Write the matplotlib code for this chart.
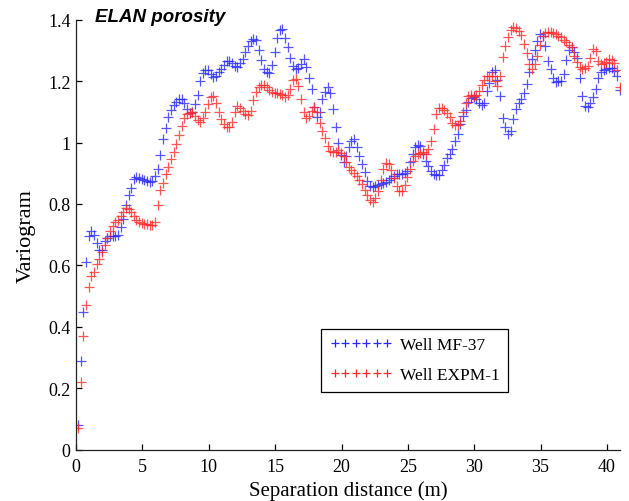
import numpy as np
import matplotlib
matplotlib.use("Agg")
import matplotlib.pyplot as plt

# lag distances (m), one every 0.2 m
lag = np.round(np.arange(0.15, 41.0, 0.2), 2)

# Well MF-37 (blue)
mf37 = [
    0.08, 0.29, 0.45, 0.61, 0.695, 0.713, 0.70, 0.672, 0.65, 0.65,
    0.68, 0.69, 0.695, 0.695, 0.695, 0.70, 0.725, 0.752, 0.795, 0.83,
    0.853, 0.88, 0.887, 0.885, 0.88, 0.879, 0.876, 0.872, 0.875, 0.89,
    0.915, 0.96, 1.01, 1.048, 1.082, 1.105, 1.122, 1.132, 1.14, 1.14,
    1.128, 1.108, 1.095, 1.10, 1.125, 1.155, 1.20, 1.225, 1.235, 1.235,
    1.222, 1.213, 1.218, 1.228, 1.24, 1.253, 1.265, 1.265, 1.258, 1.25,
    1.245, 1.258, 1.272, 1.295, 1.315, 1.33, 1.337, 1.332, 1.30, 1.27,
    1.24, 1.228, 1.226, 1.253, 1.295, 1.34, 1.365, 1.37, 1.34, 1.31,
    1.275, 1.25, 1.24, 1.242, 1.255, 1.272, 1.245, 1.21, 1.175, 1.115,
    1.082, 1.10, 1.14, 1.165, 1.18, 1.16, 1.108, 1.05, 0.998, 0.958,
    0.935, 0.955, 0.985, 1.005, 1.01, 0.985, 0.957, 0.93, 0.905, 0.875,
    0.858, 0.855, 0.859, 0.862, 0.865, 0.867, 0.87, 0.877, 0.885, 0.892,
    0.898, 0.898, 0.899, 0.901, 0.908, 0.936, 0.963, 0.984, 0.992, 0.987,
    0.963, 0.94, 0.922, 0.908, 0.899, 0.894, 0.895, 0.912, 0.927, 0.948,
    0.963, 0.978, 1.005, 1.028, 1.06, 1.085, 1.106, 1.133, 1.146, 1.147,
    1.143, 1.13, 1.122, 1.128, 1.167, 1.195, 1.228, 1.235, 1.205, 1.15,
    1.08, 1.05, 1.028, 1.036, 1.075, 1.11, 1.127, 1.14, 1.16, 1.19,
    1.23, 1.273, 1.30, 1.33, 1.354, 1.345, 1.315, 1.265, 1.238, 1.21,
    1.198, 1.2, 1.2, 1.222, 1.267, 1.302, 1.31, 1.295, 1.275, 1.21,
    1.15, 1.12, 1.115, 1.127, 1.148, 1.175, 1.21, 1.228, 1.237, 1.24,
    1.242, 1.241, 1.232, 1.215, 1.17,
]

# Well EXPM-1 (red)
expm1 = [
    0.07, 0.22, 0.37, 0.47, 0.53, 0.565, 0.58, 0.605, 0.622, 0.645,
    0.667, 0.69, 0.712, 0.727, 0.74, 0.748, 0.76, 0.773, 0.787, 0.785,
    0.773, 0.76, 0.747, 0.74, 0.738, 0.736, 0.735, 0.733, 0.732, 0.74,
    0.795, 0.845, 0.868, 0.897, 0.92, 0.945, 0.97, 0.996, 1.023, 1.053,
    1.08, 1.093, 1.097, 1.098, 1.085, 1.074, 1.066, 1.08, 1.10, 1.125,
    1.148, 1.152, 1.127, 1.10, 1.078, 1.06, 1.052, 1.052, 1.068, 1.098,
    1.118, 1.113, 1.104, 1.093, 1.09, 1.104, 1.137, 1.165, 1.182, 1.188,
    1.187, 1.18, 1.172, 1.165, 1.16, 1.16, 1.159, 1.156, 1.148, 1.155,
    1.175, 1.205, 1.208, 1.185, 1.14, 1.10, 1.08, 1.085, 1.104, 1.117,
    1.10, 1.065, 1.037, 1.015, 0.987, 0.972, 0.969, 0.97, 0.974, 0.967,
    0.957, 0.935, 0.92, 0.91, 0.90, 0.89, 0.878, 0.864, 0.846, 0.828,
    0.814, 0.806, 0.82, 0.842, 0.877, 0.915, 0.933, 0.93, 0.91, 0.885,
    0.86, 0.842, 0.842, 0.862, 0.888, 0.914, 0.94, 0.957, 0.962, 0.966,
    0.969, 0.964, 0.98, 1.005, 1.045, 1.093, 1.113, 1.112, 1.105, 1.097,
    1.083, 1.065, 1.057, 1.058, 1.07, 1.10, 1.13, 1.15, 1.153, 1.15,
    1.155, 1.168, 1.186, 1.203, 1.215, 1.218, 1.216, 1.20, 1.184, 1.215,
    1.277, 1.313, 1.343, 1.365, 1.375, 1.372, 1.362, 1.349, 1.32, 1.29,
    1.255, 1.24, 1.255, 1.28, 1.316, 1.345, 1.357, 1.36, 1.36, 1.356,
    1.354, 1.348, 1.343, 1.335, 1.328, 1.318, 1.31, 1.283, 1.262, 1.245,
    1.24, 1.242, 1.25, 1.275, 1.303, 1.298, 1.265, 1.256, 1.258, 1.263,
    1.272, 1.27, 1.258, 1.235, 1.18,
]

xticks = [0, 5, 10, 15, 20, 25, 30, 35, 40]
yticks = [0, 0.2, 0.4, 0.6, 0.8, 1.0, 1.2, 1.4]
ytick_labels = ["0", "0.2", "0.4", "0.6", "0.8", "1", "1.2", "1.4"]

plt.rcParams["font.family"] = ["Liberation Serif", "DejaVu Serif"]

fig = plt.figure(figsize=(6.29, 5.02), dpi=100)
ax = fig.add_axes([0.121, 0.102, 0.865, 0.857])

ax.plot(lag, mf37, "+", color="#2a2aff", markersize=6.5, markeredgewidth=0.9,
        alpha=0.8, label="Well MF-37")
ax.plot(lag, expm1, "+", color="#ff2a2a", markersize=6.5, markeredgewidth=0.9,
        alpha=0.8, label="Well EXPM-1")

ax.set_xlim(0, 41)
ax.set_ylim(0, 1.4)
ax.set_xticks(xticks)
ax.set_yticks(yticks)
ax.set_yticklabels(ytick_labels)
ax.tick_params(direction="in", length=4, width=0.9, labelsize=13, pad=4)
ax.tick_params(axis="x", pad=6)
for s in ["top", "right"]:
    ax.spines[s].set_visible(False)
for s in ["left", "bottom"]:
    ax.spines[s].set_linewidth(0.9)
    ax.spines[s].set_color("#222222")

ax.set_xlabel("Separation distance (m)", fontsize=15, labelpad=4)
ax.set_ylabel("Variogram", fontsize=16, labelpad=9)

leg = ax.legend(loc="lower left", bbox_to_anchor=(0.45, 0.134), borderaxespad=0,
                numpoints=6, handlelength=3.6, fontsize=12.5, labelspacing=0.8,
                fancybox=False, framealpha=1, edgecolor="black",
                borderpad=0.5, handletextpad=0.45, markerscale=0.8)
leg.get_frame().set_linewidth(0.9)
for h in leg.legend_handles:
    h.set_alpha(1)

fig.text(95 / 629, 1 - 17 / 502, "ELAN porosity", family="Liberation Sans",
         fontweight="bold", fontstyle="italic", fontsize=13.5, va="center")

fig.savefig("out.png", dpi=100)
